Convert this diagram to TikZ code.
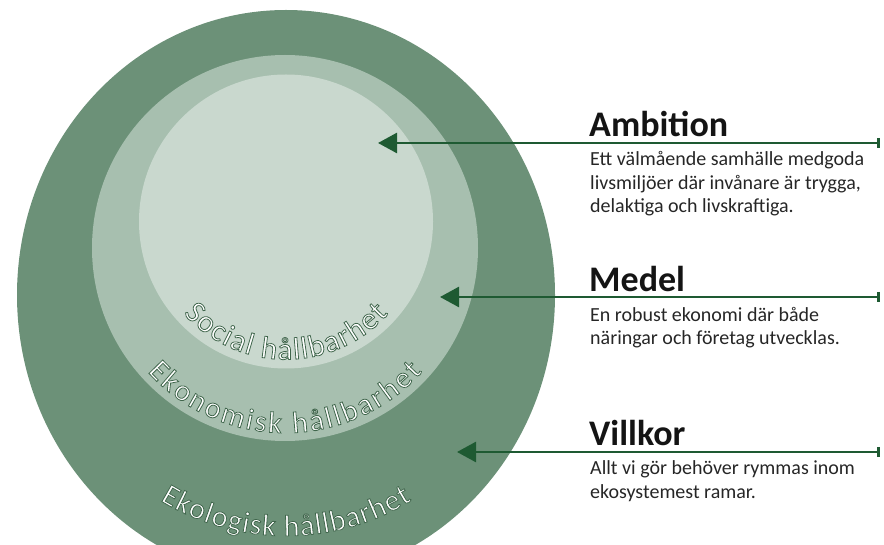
\documentclass[tikz,border=0pt]{standalone}
\usepackage{fontspec}
\setmainfont{Carlito}
\usetikzlibrary{arrows.meta,decorations.text}
\definecolor{ekogreen}{RGB}{108,145,120}
\definecolor{ekongreen}{RGB}{167,191,175}
\definecolor{socgreen}{RGB}{201,216,206}
\definecolor{arrowgreen}{RGB}{30,90,50}
\def\outlinetext{\special{pdf:code 0.25 0.40 0.30 RG 0.8 w 2 Tr}}
\tikzset{
	pil/.style={line width=2.6pt, color=arrowgreen, {Bar[width=10pt]}-{Triangle[length=19pt,width=20pt]}},
	rubrik/.style={anchor=base west, inner sep=0pt, font=\fontsize{36}{43}\selectfont\bfseries, text=black!92},
	brodtext/.style={anchor=base west, inner sep=0pt, align=left, font=\fontsize{20}{23.5}\selectfont, text=black!85},
	bagtext/.style={decorate, decoration={text along path, text color=white, text align=fit to path, text={#1}}}
}

\begin{document}
\begin{tikzpicture}[x=1pt, y=1pt]
			%%%%% START %%%%%
			
			\path[use as bounding box] (0, 0) rectangle (884, 544);
			\clip (0, 0) rectangle (884, 544);
			
			\fill[ekogreen] (286, 249) ellipse [x radius=269pt, y radius=285pt];
			\fill[ekongreen] (285, 296) circle (193pt);
			\fill[socgreen] (286, 322.5) circle (147pt);
			
			\path[bagtext={|\fontsize{31}{31}\selectfont\outlinetext|Social hållbarhet}] (286, 322.5) ++(222:138pt) arc[start angle=222, end angle=318, radius=138pt];
			\path[bagtext={|\fontsize{30}{30}\selectfont\outlinetext|Ekonomisk hållbarhet}] (285, 296) ++(222:185pt) arc[start angle=222, end angle=318, radius=185pt];
			\path[bagtext={|\fontsize{30}{30}\selectfont\outlinetext|Ekologisk hållbarhet}] (286, 249) ++(238.5:241pt) arc[start angle=238.5, end angle=301.5, radius=241pt];
			
			\coordinate (ambend) at (880, 401);
			\coordinate (ambtip) at (378, 401);
			\coordinate (medend) at (880, 247);
			\coordinate (medtip) at (440, 247);
			\coordinate (vilend) at (880, 92);
			\coordinate (viltip) at (457, 92);
			
			\draw[pil] (ambend) -- (ambtip);
			\draw[pil] (medend) -- (medtip);
			\draw[pil] (vilend) -- (viltip);
			
			\node[rubrik] (ambition) at (589, 407) {Ambition};
			\node[brodtext] (ambtext) at (590, 331) {Ett välmående samhälle medgoda\\livsmiljöer där invånare är trygga,\\delaktiga och livskraftiga.};
			
			\node[rubrik] (medel) at (589, 252) {Medel};
			\node[brodtext] (medtext) at (590, 199) {En robust ekonomi där både\\näringar och företag utvecklas.};
			
			\node[rubrik] (villkor) at (589, 98) {Villkor};
			\node[brodtext] (viltext) at (590, 46) {Allt vi gör behöver rymmas inom\\ekosystemest ramar.};
			
			%%%%% END %%%%%
\end{tikzpicture}
\end{document}
